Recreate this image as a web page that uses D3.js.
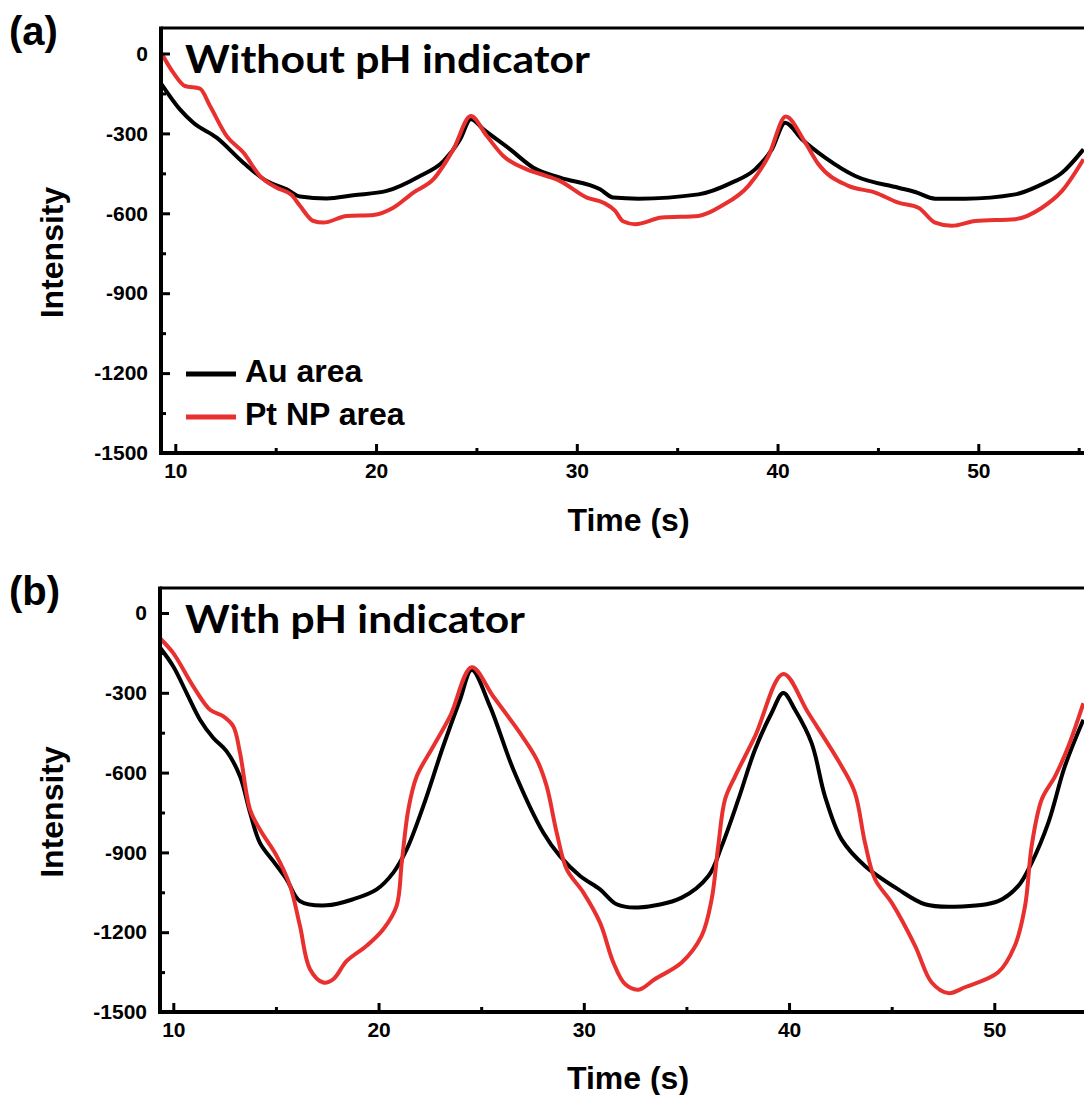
<!DOCTYPE html>
<html>
<head>
<meta charset="utf-8">
<script src="https://cdn.jsdelivr.net/npm/d3@7"></script>
<style>
  body { margin: 0; background: #fff; }
  svg { display: block; }
</style>
</head>
<body>
<svg id="chart" width="1084" height="1095"></svg>
<script>
// tick values shared by both panels
const xTicks = [10, 20, 30, 40, 50];
const xMinorTicks = [15, 25, 35, 45, 55];
const yTicks = [0, -300, -600, -900, -1200, -1500];
const yMinorTicks = [-150, -450, -750, -1050, -1350];

const seriesNames = ["Au area", "Pt NP area"];
const seriesColors = ["#000000", "#e8312f"];

// panel (a): without pH indicator
const auTimeA = [9.32, 10.23, 10.9, 12.06, 13.39, 14.55, 15.55, 16.21, 17.54, 18.87, 20.53, 22.19, 23.36, 24.19, 24.72,
  25.35, 26.68, 27.84, 29.17, 31.16, 31.82, 33.07, 36.06, 37.72, 38.88, 39.72, 40.38, 41.21, 42.37, 43.87, 46.02,
  46.86, 47.85, 49.35, 51.84, 53.0, 54.17, 55.24];
const auIntensityA = [-116, -210, -260, -316, -410, -479, -510, -537, -544, -532, -516, -460, -404, -322, -247,
  -285, -360, -429, -466, -510, -541, -545, -529, -485, -435, -360, -260, -322, -391, -460, -504,
  -520, -545, -545, -529, -497, -448, -360];
const ptTimeA = [9.32, 9.9, 10.48, 11.23, 11.73, 12.56, 13.39, 14.22, 15.05, 15.8, 16.21, 16.88, 17.37, 18.54, 19.87,
  20.86, 21.86, 22.86, 23.85, 24.72, 25.52, 26.34, 27.51, 28.5, 29.17, 30.5, 31.33, 31.9, 32.3, 32.91, 34.24,
  36.06, 37.22, 38.55, 39.55, 40.41, 41.38, 42.04, 43.53, 44.86, 46.02, 47.02, 47.85, 48.68, 49.85, 51.84,
  53.17, 54.17, 55.24];
const ptIntensityA = [0, -72, -122, -132, -197, -310, -372, -460, -504, -532, -572, -629, -635, -610, -606,
  -579, -522, -472, -360, -235, -310, -385, -435, -460, -479, -541, -560, -590, -630, -641, -616,
  -610, -572, -497, -385, -237, -335, -416, -497, -522, -560, -579, -635, -647, -629, -622,
  -579, -516, -397];

// panel (b): with pH indicator
const auTimeB = [9.35, 10.0, 10.65, 11.3, 11.95, 12.6, 13.25, 13.74, 14.22, 14.87, 15.52, 16.17, 17.47, 18.77, 19.91,
  20.72, 21.37, 22.18, 23.15, 23.97, 24.54, 25.43, 26.57, 28.03, 28.84, 29.82, 30.79, 31.6, 32.66, 34.77,
  36.07, 36.72, 37.53, 38.34, 39.15, 39.72, 40.29, 41.1, 41.75, 42.56, 43.7, 45.32, 46.62, 48.08, 50.19,
  51.17, 51.82, 52.63, 53.44, 54.34];
const auIntensityB = [-130, -201, -301, -401, -470, -520, -614, -751, -864, -933, -1001, -1083, -1099, -1076, -1039,
  -976, -889, -726, -501, -326, -214, -351, -589, -826, -914, -989, -1039, -1095, -1107, -1070,
  -989, -876, -701, -514, -376, -301, -364, -489, -689, -851, -951, -1039, -1095, -1104, -1083,
  -1026, -939, -789, -576, -401];
const ptTimeB = [9.35, 10.0, 10.97, 11.79, 12.44, 12.92, 13.25, 13.74, 14.22, 15.04, 15.69, 16.17, 16.66, 17.31, 17.8,
  18.45, 19.42, 20.23, 20.88, 21.13, 21.45, 21.86, 22.67, 23.48, 24.54, 25.59, 26.89, 27.71, 28.19, 28.68,
  29.17, 29.98, 30.79, 31.44, 32.01, 32.66, 33.47, 34.77, 35.74, 36.23, 36.55, 36.88, 37.37, 38.34, 39.72,
  40.94, 42.56, 43.21, 43.7, 44.19, 45.0, 46.14, 46.95, 47.76, 48.57, 50.19, 51.0, 51.5, 51.82, 52.31,
  52.96, 53.61, 54.34];
const ptIntensityB = [-95, -151, -276, -364, -389, -426, -526, -739, -814, -914, -1026, -1176, -1339, -1389, -1376,
  -1308, -1251, -1189, -1101, -939, -739, -614, -501, -389, -204, -314, -451, -551, -651, -826,
  -964, -1051, -1164, -1314, -1395, -1416, -1376, -1314, -1214, -1076, -876, -701, -614, -464, -229,
  -376, -576, -676, -864, -1001, -1089, -1251, -1389, -1429, -1407, -1351, -1251, -1101, -876, -701,
  -614, -501, -339];

const svg = d3.select("#chart");
const FONT = "'Liberation Sans', Arial, sans-serif";

const panels = [
  {
    id: "a", label: "(a)", title: "Without pH indicator", titleWidth: 405,
    left: 161, top: 28, bottom: 453, right: 1100,
    xRange: [175.3, 978.3], yRange: [453, 53.5],
    series: [d3.zip(auTimeA, auIntensityA), d3.zip(ptTimeA, ptIntensityA)],
    curve: d3.curveMonotoneX, legend: true,
    labelY: 45, titleY: 73, xTitleY: 531, yTitleX: 63
  },
  {
    id: "b", label: "(b)", title: "With pH indicator", titleWidth: 340,
    left: 160, top: 588, bottom: 1012, right: 1100,
    xRange: [173.3, 994.3], yRange: [1012, 613],
    series: [d3.zip(auTimeB, auIntensityB), d3.zip(ptTimeB, ptIntensityB)],
    curve: d3.curveCatmullRom.alpha(0.5), legend: false,
    labelY: 605, titleY: 633, xTitleY: 1089, yTitleX: 63
  }
];

panels.forEach(p => {
  const x = d3.scaleLinear().domain([10, 50]).range(p.xRange);
  const y = d3.scaleLinear().domain([-1500, 0]).range(p.yRange);
  const g = svg.append("g");

  // clip so the traces stop at the frame
  g.append("clipPath").attr("id", "clip-" + p.id)
    .append("rect")
    .attr("x", p.left).attr("y", p.top)
    .attr("width", p.right - p.left).attr("height", p.bottom - p.top);

  // data lines
  const line = d3.line().x(d => x(d[0])).y(d => y(d[1])).curve(p.curve);
  p.series.forEach((s, i) => {
    g.append("path")
      .datum(s)
      .attr("clip-path", `url(#clip-${p.id})`)
      .attr("fill", "none")
      .attr("stroke", seriesColors[i])
      .attr("stroke-width", 4)
      .attr("stroke-linejoin", "round")
      .attr("d", line);
  });

  // axes, ticks pointing inward
  const styleAxis = a => {
    a.select(".domain").remove();
    a.attr("font-family", FONT).attr("font-size", 21).attr("font-weight", "bold");
    a.selectAll("line").attr("stroke", "#000").attr("stroke-width", 3);
    a.selectAll("text").attr("fill", "#000");
  };
  const plain = d => String(d); // keeps a hyphen for the minus sign

  g.append("g").attr("transform", `translate(0,${p.bottom})`)
    .call(d3.axisBottom(x).tickValues(xTicks).tickSize(-9).tickPadding(10).tickFormat(plain))
    .call(styleAxis);
  g.append("g").attr("transform", `translate(0,${p.bottom})`)
    .call(d3.axisBottom(x).tickValues(xMinorTicks).tickSize(-5).tickFormat(""))
    .call(styleAxis);
  g.append("g").attr("transform", `translate(${p.left},0)`)
    .call(d3.axisLeft(y).tickValues(yTicks).tickSize(-9).tickPadding(13).tickFormat(plain))
    .call(styleAxis);
  g.append("g").attr("transform", `translate(${p.left},0)`)
    .call(d3.axisLeft(y).tickValues(yMinorTicks).tickSize(-5).tickFormat(""))
    .call(styleAxis);

  // frame: left, bottom and top edges (right edge falls outside the picture)
  g.append("line").attr("x1", p.left).attr("x2", p.left).attr("y1", p.top - 1.5).attr("y2", p.bottom + 2)
    .attr("stroke", "#000").attr("stroke-width", 4);
  g.append("line").attr("x1", p.left - 2).attr("x2", p.right).attr("y1", p.bottom).attr("y2", p.bottom)
    .attr("stroke", "#000").attr("stroke-width", 4);
  g.append("line").attr("x1", p.left).attr("x2", p.right).attr("y1", p.top).attr("y2", p.top)
    .attr("stroke", "#000").attr("stroke-width", 3);

  // panel letter
  g.append("text").attr("x", 9).attr("y", p.labelY)
    .attr("font-family", FONT).attr("font-weight", "bold").attr("font-size", 40)
    .text(p.label);

  // in-plot title
  g.append("text").attr("x", 185).attr("y", p.titleY)
    .attr("font-family", "Lato, 'Open Sans', sans-serif").attr("font-weight", "bold").attr("font-size", 39)
    .attr("textLength", p.titleWidth).attr("lengthAdjust", "spacingAndGlyphs")
    .text(p.title);

  // axis titles
  g.append("text").attr("x", (p.left + 1084) / 2 + 6).attr("y", p.xTitleY)
    .attr("text-anchor", "middle")
    .attr("font-family", FONT).attr("font-weight", "bold").attr("font-size", 32)
    .text("Time (s)");
  g.append("text")
    .attr("transform", `translate(${p.yTitleX},${(p.top + p.bottom) / 2 + 12}) rotate(-90)`)
    .attr("text-anchor", "middle")
    .attr("font-family", FONT).attr("font-weight", "bold").attr("font-size", 32)
    .text("Intensity");

  // legend
  if (p.legend) {
    const ly = [374, 417];
    seriesNames.forEach((name, i) => {
      g.append("line").attr("x1", 186).attr("x2", 236).attr("y1", ly[i]).attr("y2", ly[i])
        .attr("stroke", seriesColors[i]).attr("stroke-width", 5);
      g.append("text").attr("x", 245).attr("y", ly[i] + 8)
        .attr("font-family", FONT).attr("font-weight", "bold").attr("font-size", 32)
        .text(name);
    });
  }
});
</script>
</body>
</html>
